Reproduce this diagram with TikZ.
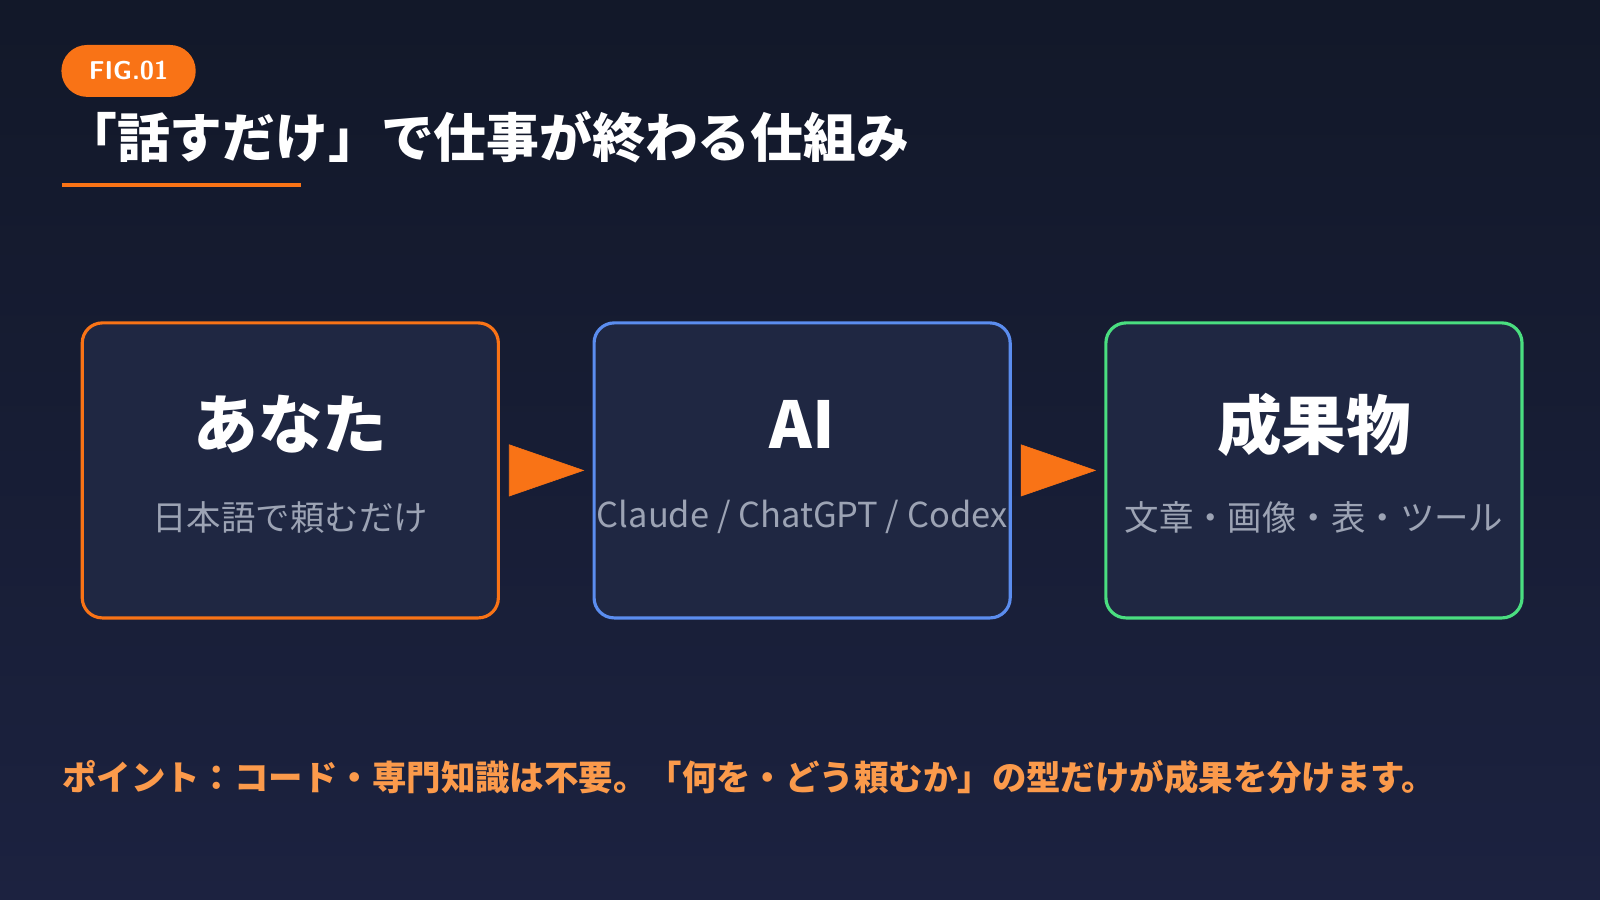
\documentclass[tikz,border=0pt]{standalone}
\usepackage{fontspec}
\setmainfont{Noto Sans CJK JP}
\usetikzlibrary{arrows.meta, positioning}
\definecolor{bgtop}{HTML}{121829}
\definecolor{bgbot}{HTML}{1C2240}
\definecolor{boxfill}{HTML}{1F2742}
\definecolor{accent}{HTML}{F97316}
\definecolor{aiblue}{HTML}{5B8DEF}
\definecolor{outgreen}{HTML}{4ADE80}
\definecolor{subgray}{HTML}{9CA3B4}
\definecolor{note}{HTML}{FB9A4B}
\tikzset{
  stage/.style={draw=#1, line width=2.2pt, fill=boxfill, rounded corners=14pt,
    minimum width=290pt, minimum height=205.6pt, inner sep=0pt},
  head/.style={text=white, font=\bfseries\fontsize{45}{50}\selectfont},
  sub/.style={text=subgray, font=\fontsize{24}{28}\selectfont},
  flow/.style={draw=accent, line width=0.4pt, shorten <=6.4pt, shorten >=5.7pt,
    -{Triangle[length=52.5pt, width=36.2pt, fill=accent]}}
}
\begin{document}
\begin{tikzpicture}[x=0.025cm, y=-0.025cm]
\shade[top color=bgtop, bottom color=bgbot] (0,0) rectangle (1568,882);
\useasboundingbox (0,0) rectangle (1568,882);

% heading
\node (fig) at (126,69.5) [fill=accent, rounded corners=18pt, minimum width=93.6pt,
  minimum height=36.2pt, text=white, font=\bfseries\sffamily\fontsize{18}{20}\selectfont] {FIG.01};
\node (title) [anchor=west, text=white, font=\bfseries\fontsize{36.8}{40}\selectfont]
  at (58,134) {「話すだけ」で仕事が終わる仕組み};
\draw[accent, line width=2.8pt] (61,181) -- (295,181);

% stages
\node (you) at (284.5,461) [stage=accent] {};
\node (ai) [stage=aiblue, right=64.5pt of you] {};
\node (out) [stage=outgreen, right=64.5pt of ai] {};

\node (youhead) at ([yshift=32pt]you.center) [head] {あなた};
\node (yousub) at ([yshift=-32.6pt]you.center) [sub] {日本語で頼むだけ};
\node (aihead) at ([yshift=32pt]ai.center) [head] {AI};
\node (aisub) at ([yshift=-32.6pt]ai.center) [sub] {Claude / ChatGPT / Codex};
\node (outhead) at ([yshift=32pt]out.center) [head] {成果物};
\node (outsub) at ([yshift=-32.6pt]out.center) [sub] {文章・画像・表・ツール};

\draw[flow] (you) -- (ai);
\draw[flow] (ai) -- (out);

% note
\node (point) [anchor=west, text=note, font=\bfseries\fontsize{24}{28}\selectfont] at (56,762)
  {ポイント：コード・専門知識は不要。「何を・どう頼むか」の型だけが成果を分けます。};
\end{tikzpicture}
\end{document}
